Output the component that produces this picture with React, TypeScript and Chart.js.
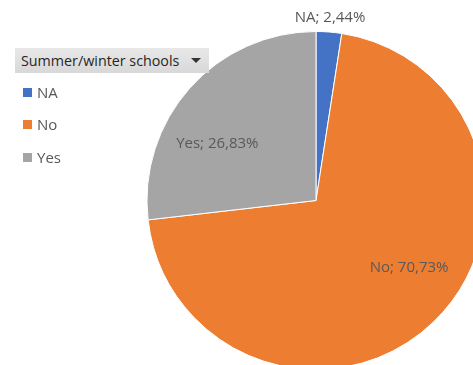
import React, { useEffect, useRef } from "react";
import { Chart, registerables } from "chart.js";

Chart.register(...registerables);

const categories = ["NA", "No", "Yes"];
const percentages = [2.44, 70.73, 26.83];
const sliceColors = ["#4472C4", "#ED7D31", "#A5A5A5"];
const legendTitle = "Summer/winter schools";

const FONT = "'Open Sans', 'Noto Sans', sans-serif";

const sliceLabelPlugin = {
  id: "sliceLabels",
  afterDatasetsDraw(chart: any, _args: any, opts: any) {
    const ctx = chart.ctx;
    const meta = chart.getDatasetMeta(0);
    ctx.save();
    ctx.font = `15px ${FONT}`;
    ctx.fillStyle = "#595959";
    ctx.textAlign = "center";
    ctx.textBaseline = "middle";
    meta.data.forEach((arc: any, i: number) => {
      const p = arc.getProps(["x", "y", "startAngle", "endAngle", "outerRadius"], true);
      const place = opts.place[i];
      const a = p.startAngle + (p.endAngle - p.startAngle) * place.t;
      const r = place.outside ? p.outerRadius + place.r : p.outerRadius * place.r;
      const text = `${categories[i]}; ${percentages[i].toFixed(2).replace(".", ",")}%`;
      ctx.fillText(text, p.x + Math.cos(a) * r, p.y + Math.sin(a) * r);
    });
    ctx.restore();
  },
};

export default function App() {
  const ref = useRef<HTMLCanvasElement>(null);
  useEffect(() => {
    if (!ref.current) return;
    const chart = new Chart(ref.current, {
      type: "pie",
      data: {
        labels: categories,
        datasets: [
          {
            data: percentages,
            backgroundColor: sliceColors,
            borderColor: "#ffffff",
            borderWidth: 1,
          },
        ],
      },
      options: {
        responsive: false,
        animation: false,
        devicePixelRatio: 1,
        layout: { padding: { top: 31, bottom: 30, left: 0, right: 0 } },
        plugins: {
          legend: { display: false },
          tooltip: { enabled: false },
          sliceLabels: {
            place: [
              { t: 0.5, r: 14, outside: true },
              { t: 0.46, r: 0.68, outside: false },
              { t: 0.38, r: 0.675, outside: false },
            ],
          },
        } as any,
      },
      plugins: [sliceLabelPlugin],
    });
    return () => chart.destroy();
  }, []);

  return (
    <div
      style={{
        position: "fixed",
        left: 0,
        top: 0,
        width: 473,
        height: 365,
        overflow: "hidden",
        background: "#ffffff",
      }}
    >
      <canvas
        ref={ref}
        width={632}
        height={400}
        style={{ position: "absolute", left: 0, top: 0, width: 632, height: 400 }}
      />
      <div
        style={{
          position: "absolute",
          left: 15,
          top: 48,
          width: 194,
          height: 25,
          background: "linear-gradient(#e8e8e8, #d8d8d8)",
          fontFamily: FONT,
          fontSize: 14.3,
          color: "#262626",
          lineHeight: "25px",
          boxSizing: "border-box",
          paddingLeft: 6,
          whiteSpace: "nowrap",
        }}
      >
        {legendTitle}
        <div
          style={{
            position: "absolute",
            left: 176,
            top: 10,
            width: 0,
            height: 0,
            borderLeft: "5px solid transparent",
            borderRight: "5px solid transparent",
            borderTop: "5px solid #333333",
          }}
        />
      </div>
      {categories.map((c, i) => (
        <div
          key={c}
          style={{
            position: "absolute",
            left: 23,
            top: [83, 115, 148][i],
            height: 18,
            display: "flex",
            alignItems: "center",
            fontFamily: FONT,
            fontSize: 15,
            color: "#595959",
          }}
        >
          <div style={{ width: 9, height: 9, background: sliceColors[i], marginRight: 5 }} />
          {c}
        </div>
      ))}
    </div>
  );
}
